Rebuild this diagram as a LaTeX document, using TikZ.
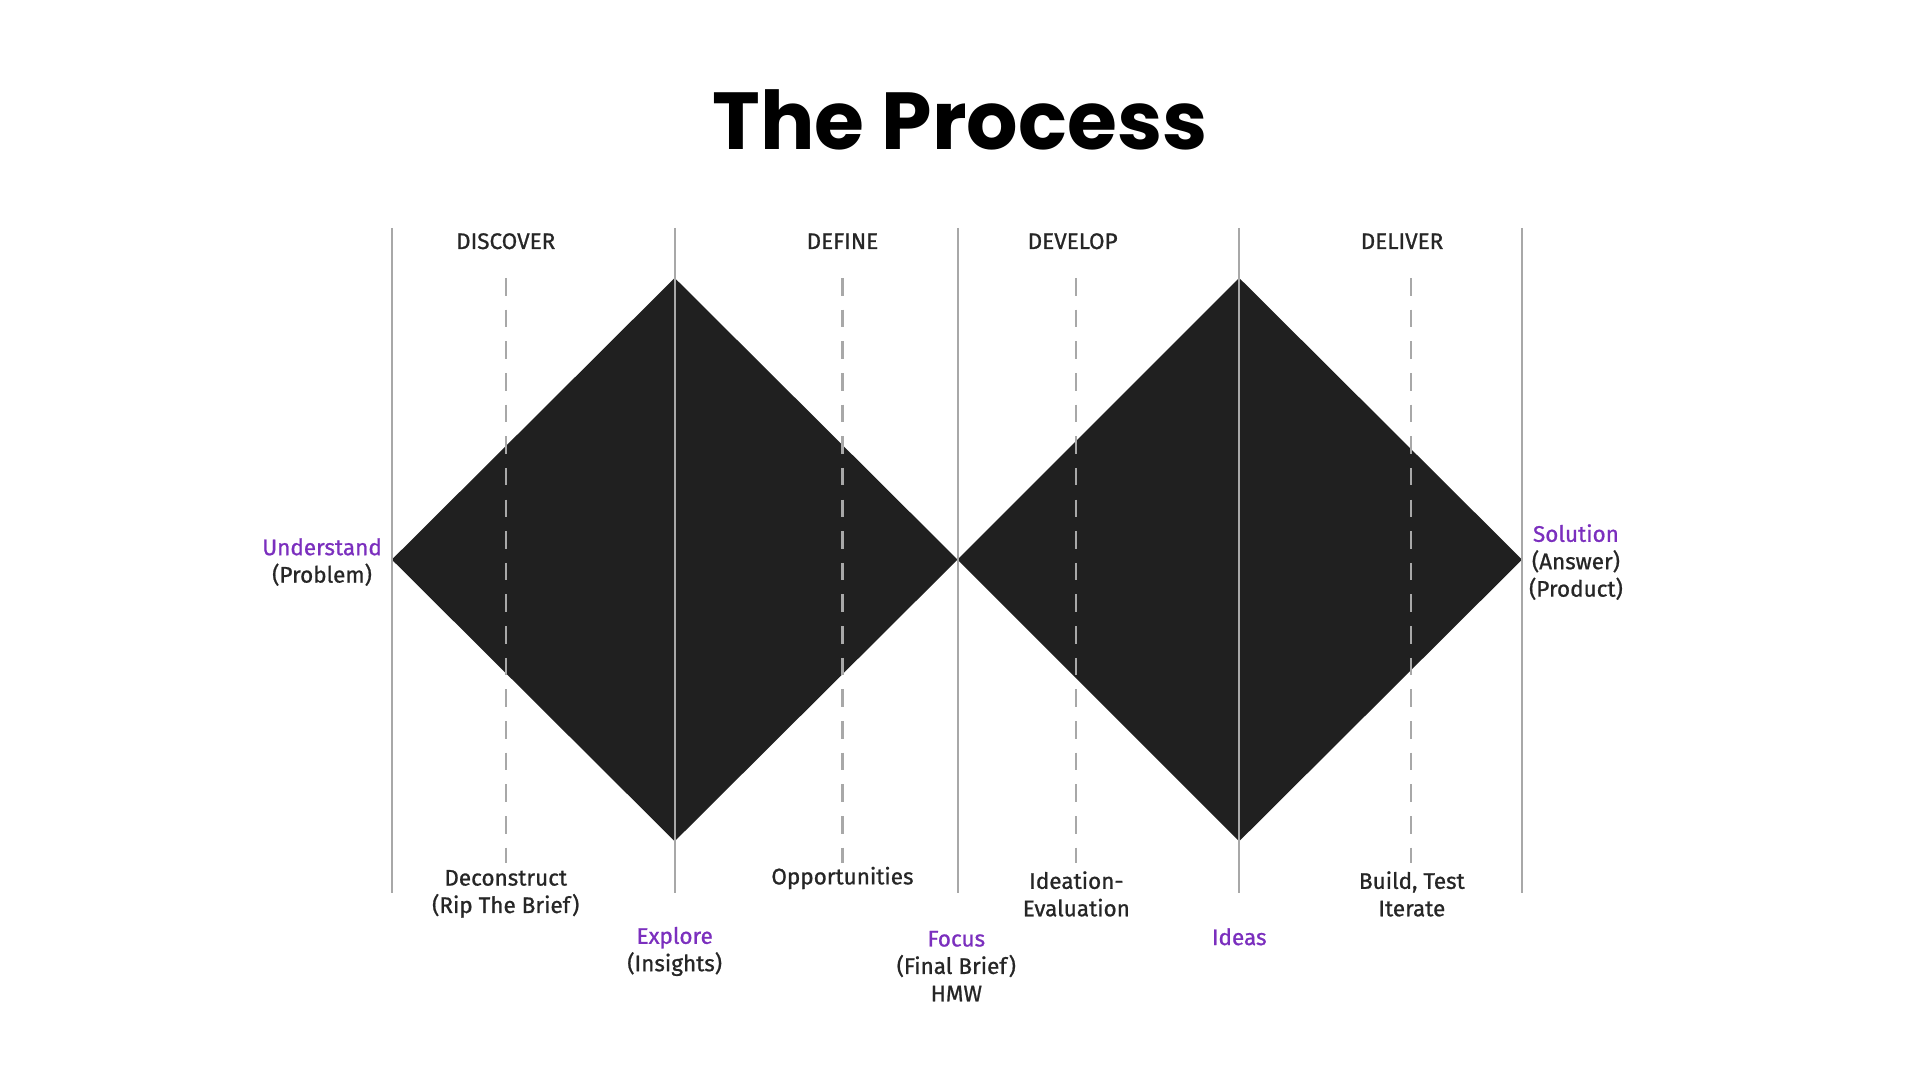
\documentclass[tikz,border=0pt]{standalone}
\usepackage{fontspec}
\setmainfont{Fira Sans}
\newfontfamily\titlefont{Poppins}
\usetikzlibrary{positioning}
\definecolor{diamondfill}{HTML}{202020}
\definecolor{accent}{HTML}{7B2FBE}
\definecolor{rule}{HTML}{A8A8A8}

\begin{document}
\begin{tikzpicture}[x=0.012245cm, y=-0.012245cm,
    phase/.style={font=\fontsize{6.4}{7.8}\selectfont\addfontfeature{FakeBold=0.9}, text=black!85, align=center},
    label/.style={font=\fontsize{6.4}{7.8}\selectfont\addfontfeature{FakeBold=0.9}, text=black!85, align=center, inner sep=1pt},
    stage/.style={rule, line width=0.6pt},
    guide/.style={rule, dashed, dash pattern=on 5pt off 4pt, line width=0.6pt}
]
\useasboundingbox (0,0) rectangle (1568,882);

% Title
\node[font=\titlefont\bfseries\fontsize{23}{27}\selectfont] (title) at (784,98) {The Process};

% Diamonds
\fill[diamondfill] (320,457) -- (551,227) -- (782,457) -- (551,687) -- cycle;
\fill[diamondfill] (782,457) -- (1012,227) -- (1243,457) -- (1012,687) -- cycle;

% Stage lines
\foreach \x in {320,551,782,1012,1243}
    \draw[stage] (\x,186) -- (\x,729);

% Dashed guides
\foreach \x in {413,688,879,1152}
    \draw[guide] (\x,227) -- (\x,705);

% Phase headings
\node[phase] (discover) at (413,197) {DISCOVER};
\node[phase] (define) at (688,197) {DEFINE};
\node[phase] (develop) at (876,197) {DEVELOP};
\node[phase] (deliver) at (1145,197) {DELIVER};

% Side labels
\node[label] (understand) at (263,459) {\textcolor{accent}{Understand}\\(Problem)};
\node[label] (solution) at (1287,459) {\textcolor{accent}{Solution}\\(Answer)\\(Product)};

% Lower labels
\node[label] (deconstruct) at (413,730) {Deconstruct\\(Rip The Brief)};
\node[label] (opps) at (688,717) {Opportunities};
\node[label] (ideation) at (879,730) {Ideation-\\Evaluation};
\node[label] (build) at (1153,730) {Build, Test\\Iterate};
\node[label] (explore) at (551,777) {\textcolor{accent}{Explore}\\(Insights)};
\node[label] (focus) at (781,789) {\textcolor{accent}{Focus}\\(Final Brief)\\HMW};
\node[label] (ideas) at (1012,765) {\textcolor{accent}{Ideas}};
\end{tikzpicture}
\end{document}
